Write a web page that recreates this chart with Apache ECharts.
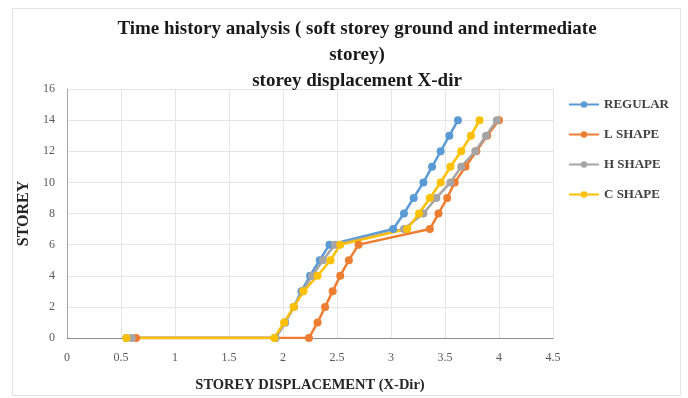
<!DOCTYPE html>
<html>
<head>
<meta charset="utf-8">
<script src="https://cdn.jsdelivr.net/npm/echarts@6/dist/echarts.min.js"></script>
<style>
  html, body { margin: 0; padding: 0; background: #fff; }
  #chart { width: 688px; height: 398px; }
</style>
</head>
<body>
<div id="chart"></div>
<script>
// Storey levels (ground storey appears twice: start of the soft storey and its top)
const storeys = [0, 0, 1, 2, 3, 4, 5, 6, 7, 8, 9, 10, 11, 12, 13, 14];

// Storey displacement in X direction for each building plan shape
const regular = [0.55, 1.93, 2.02, 2.10, 2.17, 2.25, 2.34, 2.43, 3.02, 3.12, 3.21, 3.30, 3.38, 3.46, 3.54, 3.62];
const lShape  = [0.64, 2.24, 2.32, 2.39, 2.46, 2.53, 2.61, 2.70, 3.36, 3.44, 3.52, 3.59, 3.69, 3.79, 3.89, 4.00];
const hShape  = [0.60, 1.93, 2.02, 2.10, 2.18, 2.27, 2.37, 2.48, 3.12, 3.30, 3.42, 3.55, 3.65, 3.78, 3.88, 3.98];
const cShape  = [0.55, 1.92, 2.01, 2.10, 2.19, 2.32, 2.44, 2.53, 3.15, 3.26, 3.36, 3.46, 3.55, 3.65, 3.74, 3.82];

const seriesNames = ['REGULAR', 'L SHAPE', 'H SHAPE', 'C SHAPE'];
const seriesValues = [regular, lShape, hShape, cShape];
const colors = ['#5B9BD5', '#ED7D31', '#A5A5A5', '#FFC000'];

const serif = "'Liberation Serif', 'DejaVu Serif', serif";

const chart = echarts.init(document.getElementById('chart'));

chart.setOption({
  animation: false,
  color: colors,
  graphic: [{
    type: 'rect',
    shape: { x: 12.5, y: 8.5, width: 668, height: 387 },
    style: { fill: 'none', stroke: '#e3e3e3', lineWidth: 1 },
    silent: true
  }],
  title: {
    text: 'Time history analysis ( soft storey ground and intermediate\nstorey)\nstorey displacement X-dir',
    left: 352,
    top: 11,
    textAlign: 'center',
    textStyle: {
      fontFamily: serif,
      fontWeight: 'bold',
      fontSize: 19,
      lineHeight: 26,
      color: '#1a1a1a'
    }
  },
  legend: {
    orient: 'vertical',
    left: 563,
    top: 93,
    itemGap: 17,
    itemWidth: 30,
    itemHeight: 8,
    data: seriesNames,
    textStyle: {
      fontFamily: serif,
      fontWeight: 'bold',
      fontSize: 13,
      color: '#404040'
    }
  },
  grid: { left: 67, right: 135, top: 89, bottom: 60 },
  xAxis: {
    type: 'value',
    min: 0,
    max: 4.5,
    interval: 0.5,
    name: 'STOREY DISPLACEMENT (X-Dir)',
    nameLocation: 'middle',
    nameGap: 40,
    nameTextStyle: { fontFamily: serif, fontWeight: 'bold', fontSize: 14.5, color: '#262626' },
    axisLine: { show: true, lineStyle: { color: '#8c8c8c', width: 1 } },
    axisTick: { show: false },
    axisLabel: { fontFamily: serif, fontSize: 12, color: '#595959', margin: 14 },
    splitLine: { show: true, lineStyle: { color: '#e6e6e6', width: 1 } }
  },
  yAxis: {
    type: 'value',
    min: 0,
    max: 16,
    interval: 2,
    name: 'STOREY',
    nameLocation: 'middle',
    nameGap: 29,
    nameRotate: 90,
    nameTextStyle: { fontFamily: serif, fontWeight: 'bold', fontSize: 16, color: '#262626', verticalAlign: 'middle' },
    axisLine: { show: true, lineStyle: { color: '#a6a6a6', width: 1 } },
    axisTick: { show: false },
    axisLabel: { fontFamily: serif, fontSize: 12, color: '#595959', margin: 12 },
    splitLine: { show: true, lineStyle: { color: '#e6e6e6', width: 1 } }
  },
  series: seriesNames.map((name, i) => ({
    name: name,
    type: 'line',
    data: seriesValues[i].map((x, k) => [x, storeys[k]]),
    symbol: 'circle',
    symbolSize: 8,
    lineStyle: { width: 2.5, color: colors[i] },
    itemStyle: { color: colors[i] },
    emphasis: { disabled: true }
  }))
});
</script>
</body>
</html>
